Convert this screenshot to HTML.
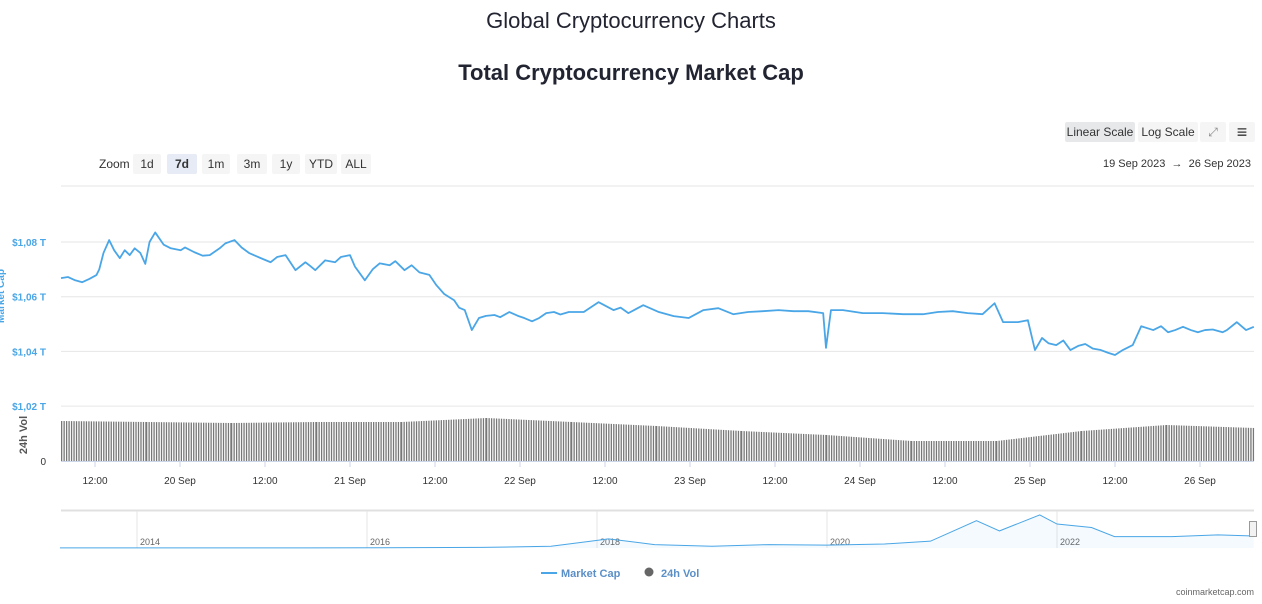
<!DOCTYPE html>
<html><head><meta charset="utf-8"><style>
body{margin:0;width:1262px;height:604px;background:#fff;font-family:"Liberation Sans",sans-serif;overflow:hidden;position:relative}
.t{position:absolute;left:0;width:1262px;text-align:center;color:#222531}
.btn{position:absolute;font-size:12px;color:#333;background:#f5f5f5;border-radius:2px;text-align:center;line-height:20px;height:20px}
</style></head><body>
<div class="t" style="top:8px;font-size:22px">Global Cryptocurrency Charts</div>
<div class="t" style="top:60px;font-size:22px;font-weight:bold">Total Cryptocurrency Market Cap</div>
<div class="btn" style="left:1065px;top:122px;width:70px;background:#e6e8ea">Linear Scale</div>
<div class="btn" style="left:1138px;top:122px;width:60px">Log Scale</div>
<div class="btn" style="left:1200px;top:122px;width:26px;color:#888">⤢</div>
<div class="btn" style="left:1229px;top:122px;width:26px;font-size:18px">≡</div>
<div style="position:absolute;left:99px;top:157px;font-size:12px;color:#333">Zoom</div>
<div class="btn" style="left:133px;top:154px;width:28px">1d</div>
<div class="btn" style="left:167px;top:154px;width:30px;background:#e6ebf5;font-weight:bold">7d</div>
<div class="btn" style="left:202px;top:154px;width:28px">1m</div>
<div class="btn" style="left:237px;top:154px;width:30px">3m</div>
<div class="btn" style="left:272px;top:154px;width:28px">1y</div>
<div class="btn" style="left:305px;top:154px;width:32px">YTD</div>
<div class="btn" style="left:341px;top:154px;width:30px">ALL</div>
<div style="position:absolute;right:11px;top:158px;font-size:11px;color:#333;white-space:nowrap">19 Sep 2023 &nbsp;→ &nbsp;26 Sep 2023</div>
<svg id="c" width="1262" height="604" style="position:absolute;left:0;top:0"></svg>
<script>
const mcHours=[0,1,2,3,4,5,5.4,6,6.8,7.5,8.3,9,9.7,10.4,11.2,11.9,12.5,13.3,14.5,15.5,16.9,17.5,18.8,20,21,22.4,23.2,24.5,25.5,26.6,28.2,29.6,30.5,31.7,33.1,34.5,35.2,35.9,37.3,38.7,39.5,40.8,41.5,42.9,44,45,46.4,47.2,48.5,49.5,50.6,52,53,54.1,55.5,56.2,57,58,59,60,61.2,62,63.3,64.5,65.4,66.5,67.5,68.5,69.6,70.5,71.7,73.8,75.9,78,79,80.1,82.2,84.4,86.5,88.6,90.7,92.8,94.9,97,99.1,101.3,103.4,105.5,107.6,108,108.7,110.4,113.2,116,118.9,121.7,123.8,125.9,128,130.1,131.8,133,135.1,136.5,137.5,138.5,139.4,140.5,141.5,142.5,143.6,144.6,145.7,146.8,147.8,148.8,149.9,151.3,152.5,154.2,155.3,156.3,157.3,158.4,159.5,160.5,161.5,162.6,164,164.6,166,167.3,168.4];
const mcValues=[1.0668,1.0672,1.0660,1.0653,1.0665,1.0679,1.0700,1.0760,1.0807,1.0770,1.0741,1.0770,1.0752,1.0777,1.0760,1.0720,1.0800,1.0835,1.0790,1.0777,1.0770,1.0780,1.0763,1.0750,1.0752,1.0777,1.0795,1.0807,1.0780,1.0759,1.0741,1.0726,1.0745,1.0752,1.0697,1.0726,1.0712,1.0697,1.0733,1.0726,1.0745,1.0752,1.0710,1.0660,1.0700,1.0722,1.0715,1.0730,1.0697,1.0715,1.0689,1.0680,1.0642,1.0610,1.0587,1.0560,1.0551,1.0478,1.0522,1.0530,1.0533,1.0525,1.0544,1.0530,1.0522,1.0510,1.0522,1.0540,1.0544,1.0535,1.0544,1.0544,1.0580,1.0551,1.0560,1.0540,1.0569,1.0544,1.0529,1.0522,1.0551,1.0558,1.0536,1.0544,1.0547,1.0551,1.0547,1.0547,1.0540,1.0413,1.0551,1.0551,1.0540,1.0540,1.0536,1.0536,1.0544,1.0547,1.0540,1.0536,1.0576,1.0507,1.0507,1.0514,1.0405,1.0449,1.0430,1.0423,1.0440,1.0405,1.0420,1.0427,1.0410,1.0405,1.0395,1.0387,1.0405,1.0423,1.0492,1.0478,1.0492,1.0470,1.0478,1.0490,1.0478,1.0470,1.0478,1.0480,1.0470,1.0478,1.0507,1.0478,1.0490,1.0503,1.0495];
const volHours=[0,12,24,36,48,60,72,84,96,108,120,132,144,156,168.4];
const volValues=[40,39,38,39,39,43,39,35,30,26,20,20,30,36,33];
const yTicks=[1.02,1.04,1.06,1.08];
const xTicks=[4.8,16.8,28.8,40.8,52.8,64.8,76.8,88.8,100.8,112.8,124.8,136.8,148.8,160.8];
const xLabels=["12:00","20 Sep","12:00","21 Sep","12:00","22 Sep","12:00","23 Sep","12:00","24 Sep","12:00","25 Sep","12:00","26 Sep"];
const navYears=[2013.33,2015.5,2017,2017.6,2017.95,2018.1,2018.5,2019,2019.5,2020,2020.5,2020.9,2021.1,2021.3,2021.5,2021.85,2022,2022.3,2022.5,2023,2023.4,2023.71];
const navValues=[0.01,0.01,0.05,0.15,0.6,0.8,0.3,0.15,0.3,0.25,0.35,0.6,1.5,2.4,1.5,2.9,2.1,1.8,1.0,1.0,1.15,1.05];
const navTicks=[2014,2016,2018,2020,2022];
const NS='http://www.w3.org/2000/svg',svg=document.getElementById('c');
function mk(t,a,p){const e=document.createElementNS(NS,t);for(const k in a)e.setAttribute(k,a[k]);(p||svg).appendChild(e);return e;}
const X0=61,X1=1254,xs=h=>X0+h*(170/24),ys=v=>242+(1.08-v)*2735,vy=v=>461-v*1;
const nx=y=>137+(y-2014)*115,ny=v=>548-v*11.4;
mk('line',{x1:61,x2:1254,y1:186,y2:186,stroke:'#e6e6e6'});
yTicks.forEach(v=>{const g=mk('line',{x1:61,x2:1254,y1:ys(v),y2:ys(v),stroke:'#e6e6e6'});
const t=mk('text',{x:46,y:ys(v)+4,'text-anchor':'end','font-size':10,fill:'#4aa6e6','font-weight':'bold'});t.textContent='$'+v.toFixed(2).replace('.',',')+' T';});
const z=mk('text',{x:46,y:465,'text-anchor':'end','font-size':10,fill:'#333'});z.textContent='0';
const yt=mk('text',{x:0,y:0,transform:'translate(4,296) rotate(-90)','text-anchor':'middle','font-size':10,fill:'#4aa6e6','font-weight':'bold'});yt.textContent='Market Cap';
const vt=mk('text',{x:0,y:0,transform:'translate(27,435) rotate(-90)','text-anchor':'middle','font-size':11,fill:'#555','font-weight':'bold'});vt.textContent='24h Vol';
for(let i=0;i<volHours.length-1;i++){const h0=volHours[i],h1=volHours[i+1];
 for(let h=h0;h<h1;h+=0.35){const v=volValues[i]+(volValues[i+1]-volValues[i])*(h-h0)/(h1-h0);const x=xs(h);if(x>X1)break;
 const b=mk('rect',{x:x,y:vy(v),width:1.3,height:461-vy(v),fill:'#777'});}}
const pts=mcHours.map((h,i)=>xs(h)+','+ys(mcValues[i])).join(' ');
const pl=mk('polyline',{points:pts,fill:'none',stroke:'#4aa6e6','stroke-width':1.8,'stroke-linejoin':'round'});
mk('line',{x1:61,x2:1254,y1:461.5,y2:461.5,stroke:'#ccd6eb'});
xTicks.forEach((h,i)=>{mk('line',{x1:xs(h),x2:xs(h),y1:462,y2:467,stroke:'#ccd6eb'});const t=mk('text',{x:xs(h),y:484,'text-anchor':'middle','font-size':10,fill:'#333'});t.textContent=xLabels[i];});
mk('line',{x1:61,x2:1254,y1:510.5,y2:510.5,stroke:'#e0e0e0','stroke-width':2});
navTicks.forEach(y=>{mk('line',{x1:nx(y),x2:nx(y),y1:511,y2:548,stroke:'#e6e6e6'});const t=mk('text',{x:nx(y)+3,y:545,'font-size':9,fill:'#666'});t.textContent=y;});
const np=navYears.map((y,i)=>nx(y)+','+ny(navValues[i]));
mk('polygon',{points:np.join(' ')+' '+nx(navYears[navYears.length-1])+',548 '+nx(navYears[0])+',548',fill:'rgba(74,166,230,0.06)'});
const nl=mk('polyline',{points:np.join(' '),fill:'none',stroke:'#4aa6e6','stroke-width':1});
const hd=mk('rect',{x:1249.5,y:521.5,width:7,height:15,fill:'#f2f2f2',stroke:'#999'});
const lg=mk('g',{});
mk('line',{x1:541,x2:557,y1:573,y2:573,stroke:'#4aa6e6','stroke-width':2},lg);
const l1=mk('text',{x:561,y:577,'font-size':11,'font-weight':'bold',fill:'#5b8fc7'},lg);l1.textContent='Market Cap';
const lg2=mk('g',{});
mk('circle',{cx:649,cy:572,r:4.5,fill:'#666'},lg2);
const l2=mk('text',{x:661,y:577,'font-size':11,'font-weight':'bold',fill:'#5b8fc7'},lg2);l2.textContent='24h Vol';
const cr=mk('text',{x:1254,y:595,'text-anchor':'end','font-size':9,fill:'#666'});cr.textContent='coinmarketcap.com';
</script>
</body></html>
